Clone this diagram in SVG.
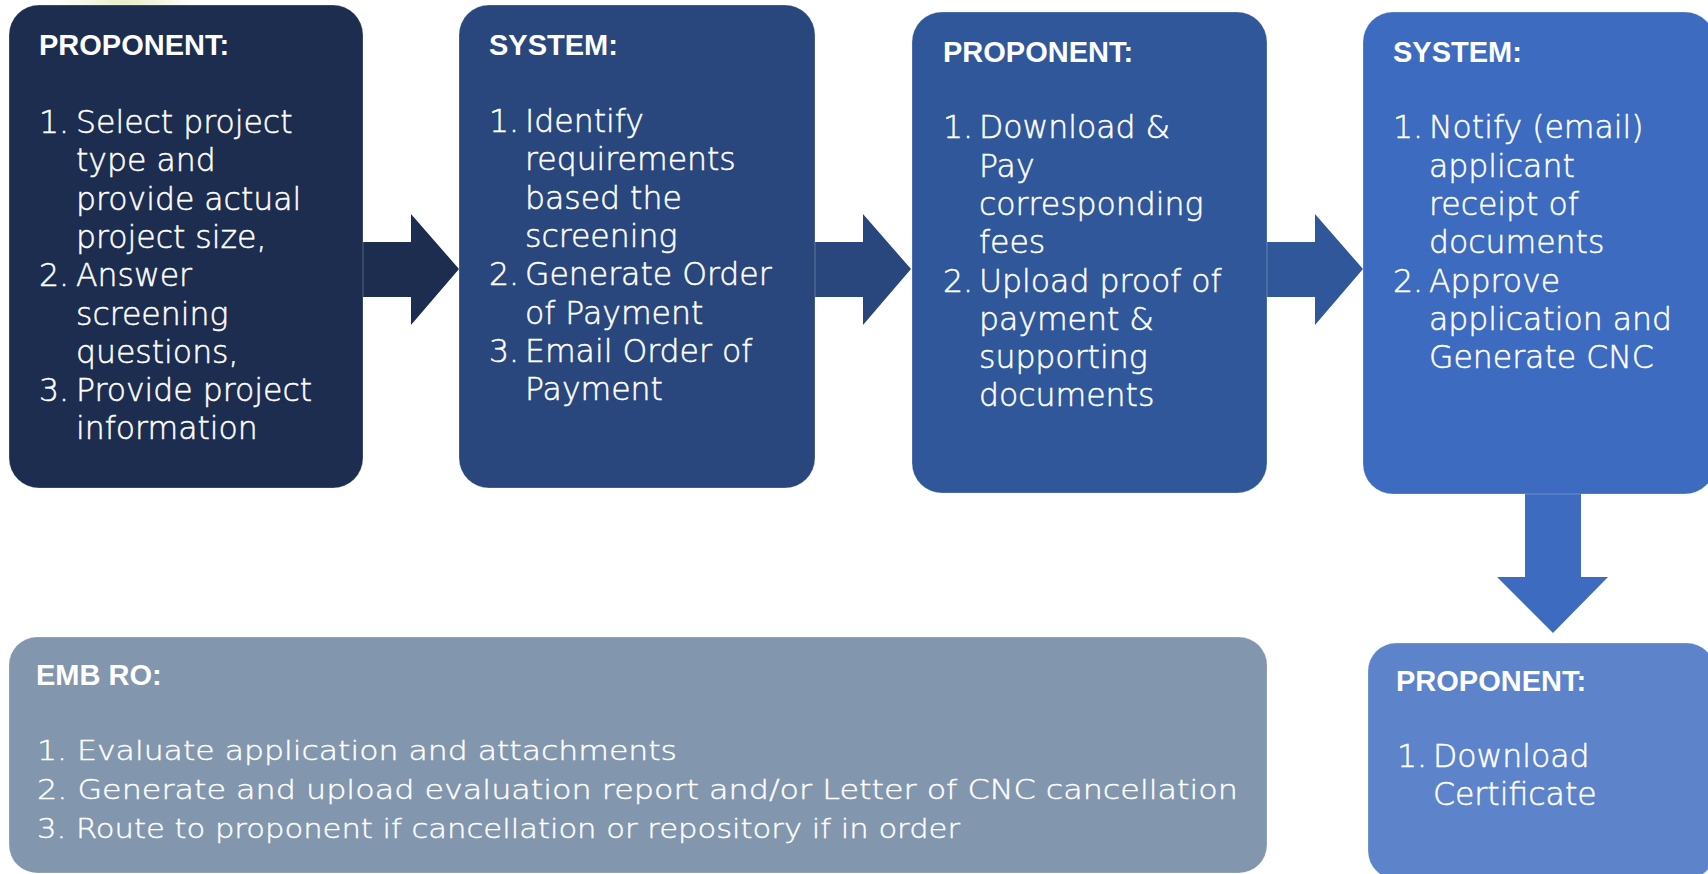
<svg xmlns="http://www.w3.org/2000/svg" width="1708" height="874" viewBox="0 0 1708 874">
  <defs>
    <radialGradient id="blob" cx="0.5" cy="0.5" r="0.5">
      <stop offset="0" stop-color="#e3edc0" stop-opacity="0.9"/>
      <stop offset="1" stop-color="#e3edc0" stop-opacity="0"/>
    </radialGradient>
  </defs>
  <style>
    .box { stroke: #ffffff; stroke-opacity: 0.25; stroke-width: 1; }
    .title { font-family: "Liberation Sans", Arial, sans-serif; font-weight: bold; font-size: 29px; fill: #ffffff; }
    .body { font-family: "DejaVu Sans", "Liberation Sans", sans-serif; font-weight: 300; font-size: 31.5px; fill: #ffffff; stroke: #ffffff; stroke-width: 0.5; }
    .small { font-family: "DejaVu Sans", "Liberation Sans", sans-serif; font-weight: 300; font-size: 27px; fill: #ffffff; stroke: #ffffff; stroke-width: 0.4; }
  </style>
  <rect width="1708" height="874" fill="#ffffff"/>
  <ellipse cx="125" cy="2" rx="70" ry="14" fill="url(#blob)"/>

  <g id="connectors">
    <polygon points="363,242 411,242 411,214 459,269 411,325 411,297 363,297" fill="#1c2d50"/>
    <polygon points="815,242 863,242 863,214 911,269 863,325 863,297 815,297" fill="#29477c"/>
    <polygon points="1267,242 1315,242 1315,214 1363,269 1315,325 1315,297 1267,297" fill="#31579b"/>
    <polygon points="1525,493 1581,493 1581,577 1608,577 1553,633 1497,577 1525,577" fill="#3d6bbf"/>
  </g>

  <g id="node-proponent-1">
    <rect class="box" x="9" y="5" width="354" height="483" rx="30" fill="#1c2d50"/>
    <text class="title" x="39" y="55">PROPONENT:</text>
    <text class="body" x="39" y="133">1.</text>
    <text class="body" x="76" y="133">Select project</text>
    <text class="body" x="76" y="171.3">type and</text>
    <text class="body" x="76" y="209.6">provide actual</text>
    <text class="body" x="76" y="247.9">project size,</text>
    <text class="body" x="39" y="286.2">2.</text>
    <text class="body" x="76" y="286.2">Answer</text>
    <text class="body" x="76" y="324.5">screening</text>
    <text class="body" x="76" y="362.8">questions,</text>
    <text class="body" x="39" y="401.1">3.</text>
    <text class="body" x="76" y="401.1">Provide project</text>
    <text class="body" x="76" y="439.4">information</text>
  </g>

  <g id="node-system-1">
    <rect class="box" x="459" y="5" width="356" height="483" rx="30" fill="#29477c"/>
    <text class="title" x="489" y="55">SYSTEM:</text>
    <text class="body" x="489" y="132">1.</text>
    <text class="body" x="525" y="132">Identify</text>
    <text class="body" x="525" y="170.3">requirements</text>
    <text class="body" x="525" y="208.6">based the</text>
    <text class="body" x="525" y="246.9">screening</text>
    <text class="body" x="489" y="285.2">2.</text>
    <text class="body" x="525" y="285.2">Generate Order</text>
    <text class="body" x="525" y="323.5">of Payment</text>
    <text class="body" x="489" y="361.8">3.</text>
    <text class="body" x="525" y="361.8">Email Order of</text>
    <text class="body" x="525" y="400.1">Payment</text>
  </g>

  <g id="node-proponent-2">
    <rect class="box" x="912" y="12" width="355" height="481" rx="30" fill="#31579b"/>
    <text class="title" x="943" y="62">PROPONENT:</text>
    <text class="body" x="943" y="138.3">1.</text>
    <text class="body" x="979" y="138.3">Download &amp;</text>
    <text class="body" x="979" y="176.6">Pay</text>
    <text class="body" x="979" y="214.9">corresponding</text>
    <text class="body" x="979" y="253.2">fees</text>
    <text class="body" x="943" y="291.5">2.</text>
    <text class="body" x="979" y="291.5">Upload proof of</text>
    <text class="body" x="979" y="329.8">payment &amp;</text>
    <text class="body" x="979" y="368.1">supporting</text>
    <text class="body" x="979" y="406.4">documents</text>
  </g>

  <g id="node-system-2">
    <rect class="box" x="1363" y="12" width="352" height="482" rx="30" fill="#3d6bbf"/>
    <text class="title" x="1393" y="62">SYSTEM:</text>
    <text class="body" x="1393" y="138.3">1.</text>
    <text class="body" x="1429" y="138.3">Notify (email)</text>
    <text class="body" x="1429" y="176.6">applicant</text>
    <text class="body" x="1429" y="214.9">receipt of</text>
    <text class="body" x="1429" y="253.2">documents</text>
    <text class="body" x="1393" y="291.5">2.</text>
    <text class="body" x="1429" y="291.5">Approve</text>
    <text class="body" x="1429" y="329.8">application and</text>
    <text class="body" x="1429" y="368.1">Generate CNC</text>
  </g>

  <g id="node-proponent-3">
    <rect class="box" x="1368" y="643" width="347" height="236" rx="28" fill="#5d84cb"/>
    <text class="title" x="1396" y="691">PROPONENT:</text>
    <text class="body" x="1397" y="767">1.</text>
    <text class="body" x="1433" y="767">Download</text>
    <text class="body" x="1433" y="805">Certificate</text>
  </g>

  <g id="node-emb-ro">
    <rect class="box" x="9" y="637" width="1258" height="236" rx="28" fill="#8296ae"/>
    <text class="title" x="36" y="685">EMB RO:</text>
    <text class="small" x="37" y="760" textLength="640" lengthAdjust="spacingAndGlyphs">1. Evaluate application and attachments</text>
    <text class="small" x="37" y="799" textLength="1201" lengthAdjust="spacingAndGlyphs">2. Generate and upload evaluation report and/or Letter of CNC cancellation</text>
    <text class="small" x="37" y="838" textLength="923" lengthAdjust="spacingAndGlyphs">3. Route to proponent if cancellation or repository if in order</text>
  </g>
</svg>
